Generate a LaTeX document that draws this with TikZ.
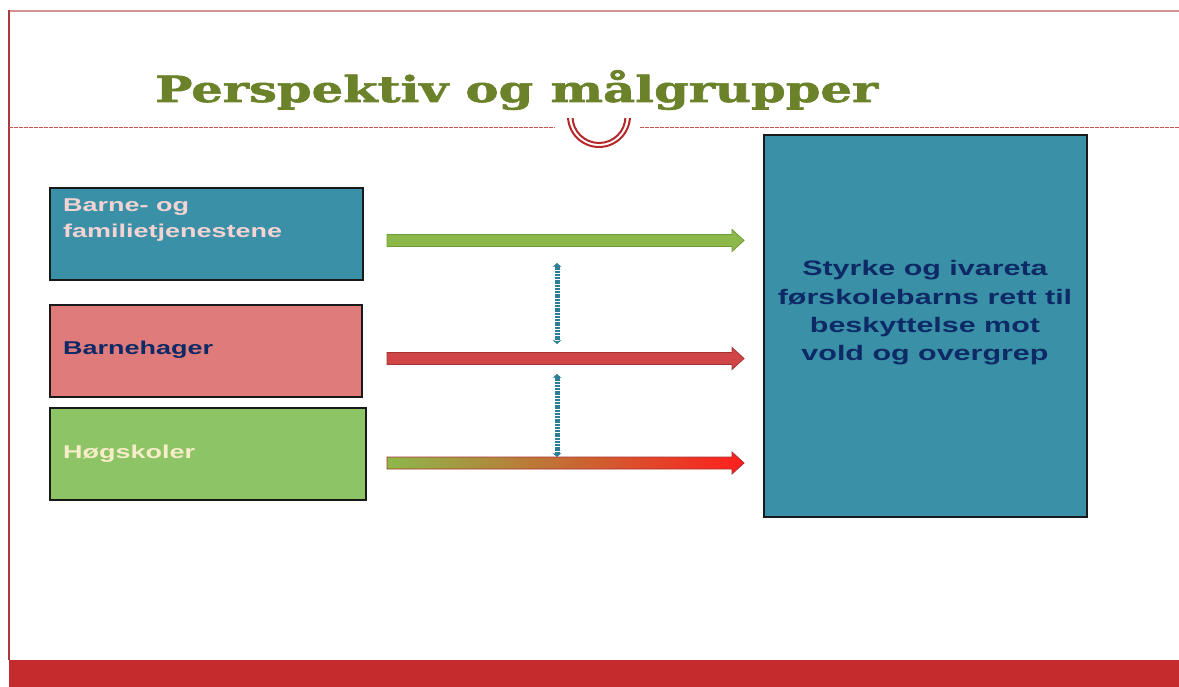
\documentclass[tikz,border=0pt]{standalone}
\usepackage{fontspec}
\setmainfont{Liberation Sans}[FakeStretch=1.45]
\newfontfamily\titlefont{DejaVu Serif}[BoldFeatures={FakeBold=1.5}]
\usetikzlibrary{calc,arrows.meta}
\definecolor{boxteal}{HTML}{3A90A6}
\definecolor{boxsalmon}{HTML}{E07B7B}
\definecolor{boxgreen}{HTML}{8DC466}
\definecolor{navytext}{HTML}{0D2A66}
\definecolor{pinktext}{HTML}{F3D3D3}
\definecolor{creamtext}{HTML}{F7EDC8}
\definecolor{titlegreen}{HTML}{6B822A}
\definecolor{arrgreen}{HTML}{8DB84A}
\definecolor{arrgreenb}{HTML}{6E9A38}
\definecolor{arrred}{HTML}{D04545}
\definecolor{arrredb}{HTML}{A83232}
\definecolor{brightred}{HTML}{FF1E1E}
\definecolor{linkteal}{HTML}{2E7F96}
\definecolor{frame}{HTML}{A83A3F}
\definecolor{frametop}{HTML}{D49494}
\definecolor{barred}{HTML}{C42B2D}
\definecolor{dashred}{HTML}{C85555}
\definecolor{ringred}{HTML}{B5282A}
\newcommand\blockarrow[3]{%
  \path[#3] ($(#1)+(0,-6)$) -- ($(#2)+(-12,-6)$) -- ($(#2)+(-12,-11)$) -- (#2)
    -- ($(#2)+(-12,11)$) -- ($(#2)+(-12,6)$) -- ($(#1)+(0,6)$) -- cycle;}
\tikzset{
  groupbox/.style={draw=black!90, line width=1.8pt, anchor=north west, inner sep=0pt},
  boxlabel/.style={anchor=base west, inner sep=0pt, align=left, font=\bfseries\fontsize{18.6}{26}\selectfont},
  linkarrow/.style={draw=linkteal, line width=5pt, dash pattern=on 2pt off 0.8pt,
    {Stealth[length=4pt,width=9pt]}-{Stealth[length=4pt,width=9pt]}},
  dashrule/.style={dashred, line width=1.5pt, dash pattern=on 3.5pt off 1.5pt},
}
\begin{document}
\begin{tikzpicture}[x=1pt,y=-1pt]
\useasboundingbox (0,0) rectangle (1179,687);
% frame
\draw[frametop, line width=2pt] (9,11) -- (1179,11);
\draw[frame, line width=1.5pt] (9,10) -- (9,660);
\fill[barred] (9,660) rectangle (1179,687);
\draw[dashrule] (9,127.5) -- (555,127.5);
\draw[dashrule] (640,127.5) -- (1179,127.5);
\begin{scope}
\clip (560,118.5) rectangle (640,152);
\draw[ringred, line width=2pt] (599,116) circle[radius=31];
\draw[ringred, line width=2pt] (599,116.5) circle[radius=26.5];
\end{scope}
% title
\node[anchor=base west, inner sep=0pt, text=titlegreen] (title) at (155,102)
  {\resizebox{723pt}{\height}{\titlefont\bfseries\fontsize{36}{40}\selectfont Perspektiv og målgrupper}};
% boxes
\node[groupbox, fill=boxteal, minimum width=313pt, minimum height=92pt] (bf) at (49,187) {};
\node[groupbox, fill=boxsalmon, minimum width=312pt, minimum height=92pt] (bh) at (49,304) {};
\node[groupbox, fill=boxgreen, minimum width=316pt, minimum height=92pt] (hs) at (49,407) {};
\node[groupbox, fill=boxteal, minimum width=323pt, minimum height=382pt] (goal) at (763,134) {};
\node[boxlabel, text=pinktext] (bft) at (63,238) {Barne- og\\familietjenestene};
\node[boxlabel, text=navytext] (bht) at (63,355) {Barnehager};
\node[boxlabel, text=creamtext] (hst) at (63,458) {Høgskoler};
\node[inner sep=0pt, align=center, text=navytext, font=\bfseries\fontsize{21}{28.3}\selectfont]
  (goalt) at (925,313) {Styrke og ivareta\\førskolebarns rett til\\beskyttelse mot\\vold og overgrep};
% arrows
\coordinate (s1) at (387,240.5); \coordinate (e1) at (744,240.5);
\coordinate (s2) at (387,358.5); \coordinate (e2) at (744,358.5);
\coordinate (s3) at (387,463);   \coordinate (e3) at (744,463);
\blockarrow{s1}{e1}{fill=arrgreen, draw=arrgreenb, line width=0.8pt}
\blockarrow{s2}{e2}{fill=arrred, draw=arrredb, line width=0.8pt}
\blockarrow{s3}{e3}{left color=arrgreen, middle color=red!85!black, right color=brightred, draw=arrredb, line width=0.8pt}
% links
\coordinate (v1a) at (557,263); \coordinate (v1b) at (557,344);
\coordinate (v2a) at (557,374); \coordinate (v2b) at (557,457);
\draw[linkarrow] (v1a) -- (v1b);
\draw[linkarrow] (v2a) -- (v2b);
\end{tikzpicture}
\end{document}
